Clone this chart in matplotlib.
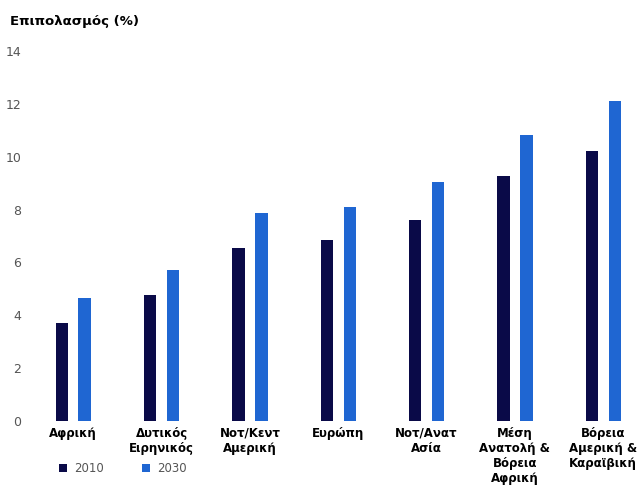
import matplotlib

matplotlib.use('Agg')
import matplotlib.pyplot as plt
import numpy as np

# Δεδομένα (εκτίμηση από την εικόνα)
perioxes = ["Αφρική", "Δυτικός\nΕιρηνικός", "Νοτ/Κεντ\nΑμερική", "Ευρώπη",
            "Νοτ/Αν\u03b1τ\nΑσία", "Μέση\nΑνατολή &\nΒόρεια\nΑφρική",
            "Βόρεια\nΑμερική &\nΚαραϊβική"]
times_2010 = [3.7, 4.75, 6.55, 6.85, 7.6, 9.25, 10.2]
times_2030 = [4.65, 5.7, 7.85, 8.1, 9.05, 10.8, 12.1]
etiketes = ["2010", "2030"]
y_ticks = [0, 2, 4, 6, 8, 10, 12, 14]

skouro = '#0a0a48'
mple = '#1f66d2'

fig = plt.figure(figsize=(6.4, 4.87), dpi=100)
ax = fig.add_axes([0.055, 0.1355, 0.94, 0.76])

x = np.arange(len(perioxes))
w = 0.14
ax.bar(x - 0.13, times_2010, width=w, color=skouro, label=etiketes[0])
ax.bar(x + 0.13, times_2030, width=w, color=mple, label=etiketes[1])

ax.set_ylim(0, 14)
ax.set_xlim(-0.43, 6.38)
ax.set_yticks(y_ticks)
ax.tick_params(axis='y', length=0, labelsize=9, labelcolor='#555555', pad=10)
ax.set_xticks(x)
ax.set_xticklabels(perioxes, fontsize=8.5, fontweight='bold', linespacing=1.2)
ax.tick_params(axis='x', length=0, pad=4)
for s in ax.spines.values():
    s.set_visible(False)

fig.text(0.015, 0.955, "Επιπολασμός (%)", fontsize=9.5, fontweight='bold', va='center')

leg = fig.legend(loc='center left', bbox_to_anchor=(0.075, 0.037), ncol=2, frameon=False,
                 handlelength=0.7, handleheight=0.7, columnspacing=3.2, handletextpad=0.6,
                 fontsize=8.5)
for t in leg.get_texts():
    t.set_color('#555555')

plt.savefig('out.png', dpi=100)
